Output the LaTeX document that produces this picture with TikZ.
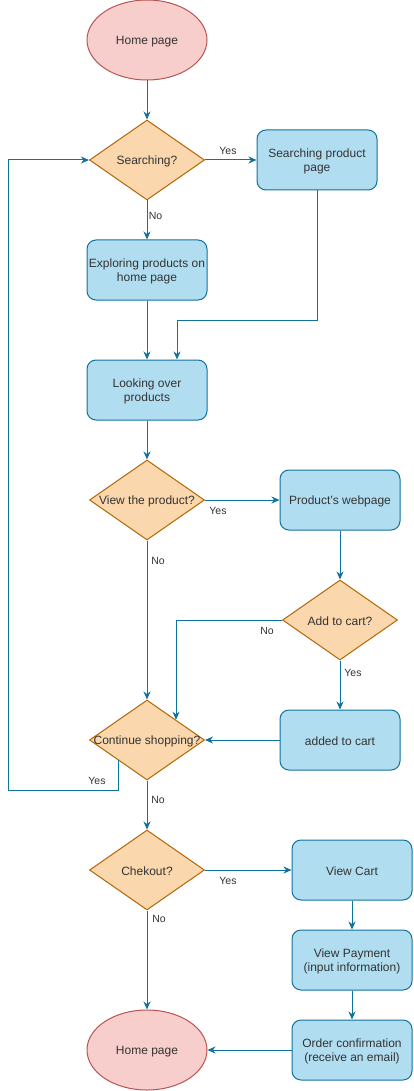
\documentclass[tikz,border=0pt]{standalone}
\usepackage{fontspec}
\setmainfont{Liberation Sans}
\usetikzlibrary{shapes.geometric,arrows.meta}
\definecolor{elFill}{HTML}{F8CECC}
\definecolor{elLine}{HTML}{B85450}
\definecolor{diFill}{HTML}{FAD7AC}
\definecolor{diLine}{HTML}{B46504}
\definecolor{bxFill}{HTML}{B1DDF0}
\definecolor{bxLine}{HTML}{10739E}
\definecolor{txtCol}{HTML}{333333}
\tikzset{
  every node/.style={text=txtCol},
  ovalnode/.style={ellipse, draw=elLine, fill=elFill, line width=1pt, minimum width=120pt, minimum height=80pt, inner sep=0pt},
  dianode/.style={diamond, draw=diLine, fill=diFill, line width=1pt, minimum width=115pt, minimum height=80pt, inner sep=0pt},
  dtext/.style={inner sep=0pt, yshift=-1.5pt, font=\fontsize{12}{14}\selectfont},
  boxnode/.style={rectangle, rounded corners=9pt, draw=bxLine, fill=bxFill, line width=1pt, minimum width=120pt, minimum height=60pt, inner sep=0pt},
  btext/.style={inner sep=0pt, yshift=-1.5pt, align=center, font=\fontsize{12}{14}\selectfont},
  edge/.style={draw=bxLine, line width=1pt, -{Stealth[length=8pt,width=7pt,inset=2.5pt]}},
  elabel/.style={inner sep=0pt, font=\fontsize{10.5}{12}\selectfont}
}
\begin{document}
\begin{tikzpicture}[x=1pt,y=-1pt]
\useasboundingbox (0,0) rectangle (413,1091);
% nodes
\node[ovalnode] (h1) at (147,40) {};
\node[dtext] (th1) at (h1) {Home page};
\node[dianode] (d1) at (147,160) {};
\node[dtext] (t1) at (d1) {Searching?};
\node[boxnode] (sp) at (317,160) {};
\node[btext] (tsp) at (sp) {Searching product\\page};
\node[boxnode] (ex) at (147,270) {};
\node[btext] (tex) at (ex) {Exploring products on\\home page};
\node[boxnode] (lo) at (147,390) {};
\node[btext] (tlo) at (lo) {Looking over\\products};
\node[dianode] (d2) at (147,500) {};
\node[dtext] (t2) at (d2) {View the product?};
\node[boxnode] (pw) at (340,500) {};
\node[btext] (tpw) at (pw) {Product's webpage};
\node[dianode] (d3) at (340,620) {};
\node[dtext] (t3) at (d3) {Add to cart?};
\node[boxnode] (ac) at (340,740) {};
\node[btext] (tac) at (ac) {added to cart};
\node[dianode] (d4) at (147,740) {};
\node[dtext] (t4) at (d4) {Continue shopping?};
\node[dianode] (d5) at (147,870) {};
\node[dtext] (t5) at (d5) {Chekout?};
\node[boxnode] (vc) at (352,870) {};
\node[btext] (tvc) at (vc) {View Cart};
\node[boxnode] (vp) at (352,960) {};
\node[btext] (tvp) at (vp) {View Payment\\(input information)};
\node[boxnode] (oc) at (352,1050) {};
\node[btext] (toc) at (oc) {Order confirmation\\(receive an email)};
\node[ovalnode] (h2) at (147,1050) {};
\node[dtext] (th2) at (h2) {Home page};
\coordinate (lpA) at (8,790);
% edges
\draw[edge] (h1) -- (d1);
\draw[edge] (d1.east) -- (sp.west);
\draw[edge] (d1.south) -- (ex.north);
\draw[edge] (ex) -- (lo);
\draw[edge] (sp.south) -- ++(0,130) -| ([xshift=30pt]lo.north);
\draw[edge] (lo) -- (d2);
\draw[edge] (d2.east) -- (pw.west);
\draw[edge] (pw) -- (d3);
\draw[edge] (d3.west) -| (d4.north east);
\draw[edge] (d3.south) -- (ac.north);
\draw[edge] (ac.west) -- (d4.east);
\draw[edge] (d2.south) -- (d4.north);
\draw[edge] (d4.south west) |- (lpA) |- (d1.west);
\draw[edge] (d4.south) -- (d5.north);
\draw[edge] (d5.east) -- (vc.west);
\draw[edge] (d5.south) -- (h2.north);
\draw[edge] (vc) -- (vp);
\draw[edge] (vp) -- (oc);
\draw[edge] (oc.west) -- (h2.east);
% labels
\node[elabel] (l1) at (228,151) {Yes};
\node[elabel] (l2) at (155.5,216) {No};
\node[elabel] (l3) at (218,511) {Yes};
\node[elabel] (l4) at (158,561) {No};
\node[elabel] (l5) at (267,631) {No};
\node[elabel] (l6) at (353,673) {Yes};
\node[elabel] (l7) at (97,781) {Yes};
\node[elabel] (l8) at (158,800) {No};
\node[elabel] (l9) at (228,881) {Yes};
\node[elabel] (l10) at (159,919) {No};
\end{tikzpicture}
\end{document}
